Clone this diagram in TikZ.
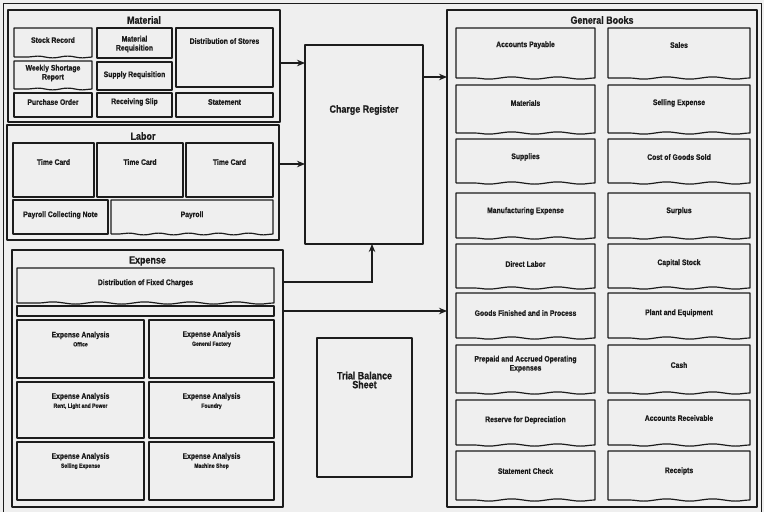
\documentclass[tikz,border=0pt]{standalone}
\usepackage{fontspec}
\setmainfont{Liberation Sans}[FakeStretch=0.85, BoldFeatures={FakeBold=0.7}]
\usetikzlibrary{decorations.pathmorphing,fit,arrows.meta,calc}
\definecolor{paper}{RGB}{239,239,239}
\definecolor{ink}{RGB}{28,28,28}
\tikzset{
  frm/.style={draw=ink, line width=1.2pt, line join=round},
  lbl/.style={font=\bfseries\fontsize{8}{9}\selectfont, align=center, inner sep=0pt, text=ink},
  arr/.style={-{Stealth[length=8pt,width=6.5pt]}, line width=1.2pt, draw=ink},
  wavy/.style={decoration={snake,amplitude=1.1pt,segment length=46pt}},
  wavys/.style={decoration={snake,amplitude=0.9pt,segment length=30pt}},
}
\newcommand\ttl[1]{{\fontsize{10.5}{12}\selectfont #1}}
\newcommand\sml[1]{{\fontsize{6}{7}\selectfont #1}}
% #1 frame options, #2 name, #3 x1, #4 y1, #5 x2, #6 y2, #7 label offset, #8 text
\newcommand\pbox[8][decoration=lineto]{%
  \coordinate (#2-a) at (#3,#4);
  \coordinate (#2-b) at (#5,#6);
  \node[fit=(#2-a)(#2-b), inner sep=0pt, outer sep=0pt] (#2) {};
  \draw[frm,#1] (#2.south west) -- (#2.north west) -- (#2.north east) -- (#2.south east) decorate {-- (#2.south west)};
  \node[lbl] at ($(#2.north)+(0,#7)$) {#8};
}
\begin{document}
\begin{tikzpicture}[x=1pt,y=-1pt]
\useasboundingbox[fill=paper] (0,0) rectangle (764,512);
% outer frame
\draw[draw=ink, line width=1pt] (3,512) -- (3,3) -- (761,3) -- (761,512);

% ---------- Material ----------
\pbox{mat}{8}{10}{280}{122}{10}{\ttl{Material}}
\pbox[wavys]{stock}{14}{28}{92}{57}{12}{Stock Record}
\pbox{matreq}{97}{28}{172}{58}{16}{Material\\Requisition}
\pbox{dist}{176}{28}{273}{87}{13}{Distribution of Stores}
\pbox[wavys]{weekly}{14}{61}{92}{89}{12}{Weekly Shortage\\Report}
\pbox{supply}{97}{62}{172}{90}{13}{Supply Requisition}
\pbox{purch}{14}{93}{92}{117}{9}{Purchase Order}
\pbox{recv}{97}{93}{172}{117}{9}{Receiving Slip}
\pbox{stmt}{176}{93}{273}{117}{9}{Statement}

% ---------- Labor ----------
\pbox{lab}{7}{125}{279}{240}{11}{\ttl{Labor}}
\pbox{tca}{13}{143}{94}{197}{19}{Time Card}
\pbox{tcb}{97}{143}{183}{197}{19}{Time Card}
\pbox{tcc}{186}{143}{273}{197}{19}{Time Card}
\pbox{pcn}{13}{200}{108}{234}{15}{Payroll Collecting Note}
\pbox[wavys]{payroll}{111}{200}{273}{234}{15}{Payroll}

% ---------- Expense ----------
\pbox{exp}{12}{250}{283}{507}{11}{\ttl{Expense}}
\pbox[wavy]{dfc}{17}{268}{274}{303}{15}{Distribution of Fixed Charges}
\pbox{strip}{17}{306}{274}{316}{5}{}
\pbox{eoff}{17}{320}{144}{378}{19}{Expense Analysis\\\sml{Office}}
\pbox{egf}{149}{320}{274}{378}{19}{Expense Analysis\\\sml{General Factory}}
\pbox{erl}{17}{382}{144}{438}{19}{Expense Analysis\\\sml{Rent, Light and Power}}
\pbox{efd}{149}{382}{274}{438}{19}{Expense Analysis\\\sml{Foundry}}
\pbox{ese}{17}{442}{144}{500}{19}{Expense Analysis\\\sml{Selling Expense}}
\pbox{ems}{149}{442}{274}{500}{19}{Expense Analysis\\\sml{Machine Shop}}

% ---------- Charge Register / Trial Balance ----------
\pbox{cr}{305}{45}{423}{244}{65}{\ttl{Charge Register}}
\pbox{tb}{317}{338}{412}{477}{42}{\ttl{Trial Balance}\\\ttl{Sheet}}

% ---------- General Books ----------
\pbox{gb}{447}{10}{757}{507}{10}{\ttl{General Books}}
\pbox[wavy]{ap}{456}{28}{595}{78}{17}{Accounts Payable}
\pbox[wavy]{sales}{608}{28}{750}{78}{17}{Sales}
\pbox[wavy]{mats}{456}{85}{595}{133}{18}{Materials}
\pbox[wavy]{sell}{608}{85}{750}{133}{18}{Selling Expense}
\pbox[wavy]{supp}{456}{139}{595}{183}{18}{Supplies}
\pbox[wavy]{cogs}{608}{139}{750}{183}{18}{Cost of Goods Sold}
\pbox[wavy]{mfg}{456}{193}{595}{238}{18}{Manufacturing Expense}
\pbox[wavy]{surp}{608}{193}{750}{238}{18}{Surplus}
\pbox[wavy]{dl}{456}{244}{595}{288}{20}{Direct Labor}
\pbox[wavy]{cap}{608}{244}{750}{288}{19}{Capital Stock}
\pbox[wavy]{gfp}{456}{293}{595}{338}{20}{Goods Finished and in Process}
\pbox[wavy]{pe}{608}{293}{750}{338}{20}{Plant and Equipment}
\pbox[wavy]{prep}{456}{345}{595}{393}{19}{Prepaid and Accrued Operating\\Expenses}
\pbox[wavy]{cash}{608}{345}{750}{393}{20}{Cash}
\pbox[wavy]{res}{456}{400}{595}{445}{20}{Reserve for Depreciation}
\pbox[wavy]{ar}{608}{400}{750}{445}{18}{Accounts Receivable}
\pbox[wavy]{sc}{456}{451}{595}{500}{20}{Statement Check}
\pbox[wavy]{rec}{608}{451}{750}{500}{20}{Receipts}

% ---------- connectors ----------
\coordinate (ym) at (0,63);
\coordinate (yl) at (0,164);
\coordinate (yc) at (0,77);
\coordinate (ye1) at (0,282);
\coordinate (ye2) at (0,311);
\coordinate (xe) at (372,0);
\draw[arr] (mat.east |- ym) -- (cr.west |- ym);
\draw[arr] (lab.east |- yl) -- (cr.west |- yl);
\draw[arr] (cr.east |- yc) -- (gb.west |- yc);
\draw[arr] (exp.east |- ye1) -| (cr.south -| xe);
\draw[arr] (exp.east |- ye2) -- (gb.west |- ye2);
\end{tikzpicture}
\end{document}
